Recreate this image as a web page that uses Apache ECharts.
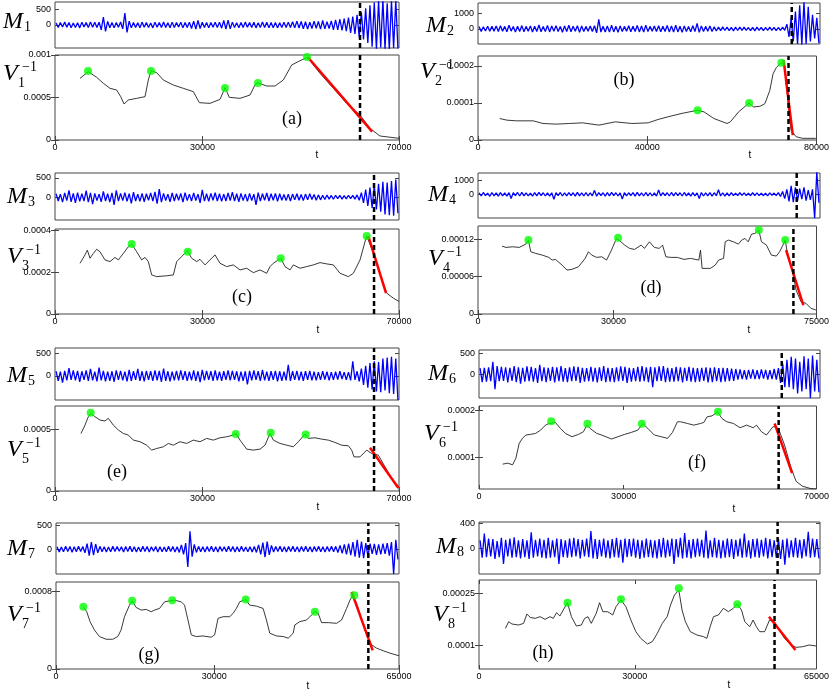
<!DOCTYPE html>
<html><head><meta charset="utf-8">
<script src="https://cdn.jsdelivr.net/npm/echarts@6/dist/echarts.min.js"></script>
<style>html,body{margin:0;padding:0;background:#fff}#c{width:832px;height:691px}</style>
</head><body><div id="c"></div>
<script>
// ---------- data ----------
const panelLetters = ['(a)','(b)','(c)','(d)','(e)','(f)','(g)','(h)'];
const tMax = [70000, 80000, 70000, 75000, 70000, 70000, 65000, 65000];
const dashT = [62070, 73390, 64920, 69890, 64920, 62150, 59190, 56920];
const mRange = [[-720,720],[-955,1640],[-595,630],[-1680,1510],[-530,610],[-557,580],[-530,558],[-411,426]];
const mTicks = [[0,500],[0,1000],[0,500],[0,1000],[0,500],[0,500],[0,500],[0,400]];
const vRange = [[0,0.001],[0,0.000227],[0,0.000407],[0,0.000141],[0,0.00069],[0.0000323,0.000209],[0,0.000895],[0.0000333,0.000288]];
const vTicks = [[0,0.0005,0.001],[0,0.0001,0.0002],[0,0.0002,0.0004],[0,0.00006,0.00012],[0,0.0005],[0.0001,0.0002],[0,0.0008],[0.0001,0.00025]];
const vTickLabels = [['0','0.0005','0.001'],['0','0.0001','0.0002'],['0','0.0002','0.0004'],['0','0.00006','0.00012'],['0','0.0005'],['0.0001','0.0002'],['0','0.0008'],['0.0001','0.00025']];
const xTicks = [[0,30000,70000],[0,40000,80000],[0,30000,70000],[0,30000,75000],[0,30000,70000],[0,30000,70000],[0,30000,65000],[0,30000,65000]];

// signal M_i (160 samples read evenly over [0, tMax])
const m1 = [60,-75,80,-65,90,-70,75,-85,65,-80, 70,-90,85,-65,80,-75,95,-70,85,-80, 90,-150,250,-200,110,-85,75,-90,80,-70, 95,-120,370,-230,120,-90,80,-75,70,-85,
 90,-70,75,-80,65,-90,85,-70,80,-75, 95,-80,70,-85,90,-75,80,-65,85,-90, 75,-80,90,-110,120,-130,140,-110,85,-80, 75,-90,80,-70,85,-75,90,-100,140,-130,
 150,-120,90,-80,70,-85,75,-80,90,-70, 80,-75,85,-90,70,-80,95,-75,85,-90, 80,-85,75,-90,70,-80,85,-75,90,-80, 100,-90,120,-95,110,-120,100,-130,90,-110,
 120,-100,110,-130,140,-120,100,-110,130,-150, 160,-150,180,-170,200,-190,230,-250,260,-280, 320,-380,400,-450,520,-560,620,-680,700,-760, 760,-700,800,-760,680,-780,760,-720,780,-740];
const m2 = [150,-160,140,-130,170,-150,160,-140,180,-170, 200,-150,160,-180,230,-140,150,-190,170,-160, 210,-180,160,-150,190,-200,170,-160,250,-180, 160,-170,220,-190,180,-150,200,-170,160,-210,
 190,-160,230,-180,170,-150,200,-220,180,-170, 160,-150,190,-170,200,-250,600,-200,170,-190, 180,-200,230,-190,170,-220,190,-170,160,-150, 200,-180,170,-160,220,-190,180,-200,230,-170,
 160,-150,190,-170,200,-180,170,-160,220,-190, 180,-200,230,-190,170,-220,190,-170,160,-180, 200,-170,350,-220,190,-170,160,-150,180,-160, 140,-130,120,-110,130,-100,120,-110,100,-120,
 110,-100,120,-90,110,-100,90,-110,100,-120, 110,-90,100,-110,90,-100,110,-90,100,-110, 90,-100,110,-90,300,-500,700,-800,1100,-960, 1500,-1000,1700,-960,1400,-800,900,-600,700,-900];
const m3 = [90,-100,80,-130,110,-90,180,-120,100,-150, 120,-110,90,-100,170,-130,110,-180,100,-90, 80,-120,150,-100,90,-130,110,-200,180,-100, 100,-90,120,-110,90,-160,130,-100,80,-110,
 100,-120,90,-80,110,-100,140,-170,210,-130, 100,-90,80,-120,110,-100,90,-80,100,-130, 120,-90,80,-100,110,-90,80,-150,190,-100, 90,-110,100,-80,120,-100,90,-110,80,-100,
 110,-90,130,-100,90,-120,100,-90,80,-110, 100,-90,80,-200,120,-100,90,-80,110,-100, 90,-80,100,-110,90,-80,70,-90,80,-100, 80,-70,90,-80,70,-90,80,-70,90,-60,
 70,-80,60,-70,50,-60,55,-50,45,-55, 50,-40,45,-50,40,-45,50,-40,45,-50, 60,-80,120,-150,200,-230,250,-280,300,-320, 350,-380,400,-450,380,-470,420,-480,460,-420];
const m4 = [110,-120,130,-100,90,-140,120,-110,100,-130, 120,-110,100,-130,120,-300,110,-100,130,-120, 140,-110,100,-120,90,-130,120,-110,140,-100, 110,-120,100,-130,110,-350,120,-100,130,-120,
 100,-110,120,-100,110,-130,140,-110,100,-120, 130,-120,100,-110,280,-140,120,-100,110,-130, 120,-110,130,-100,110,-120,100,-330,120,-110, 110,-100,120,-130,140,-110,100,-120,130,-110,
 110,-120,100,-130,300,-110,120,-100,110,-120, 130,-110,120,-100,110,-120,130,-110,100,-130, 120,-110,100,-300,130,-120,100,-110,120,-130, 110,-100,320,-120,110,-130,100,-110,120,-100,
 90,-100,110,-80,100,-90,80,-100,110,-90, 100,-90,80,-100,90,-110,100,-80,90,-100, 120,-150,200,-300,350,-500,600,-550,500,-450, 400,-350,500,-450,300,-400,350,-1700,1600,-600];
const m5 = [100,-110,90,-150,110,-100,170,-90,120,-100, 110,-130,100,-90,120,-110,150,-100,90,-120, 180,-100,110,-120,90,-110,100,-130,120,-90, 110,-100,90,-120,130,-110,100,-90,150,-110,
 100,-120,110,-90,100,-110,120,-100,110,-130, 160,-110,100,-120,90,-100,110,-100,120,-90, 100,-110,90,-100,120,-110,100,-140,130,-100, 110,-90,100,-110,120,-100,90,-110,100,-90,
 120,-100,110,-90,100,-120,90,-110,100,-190, 110,-100,120,-90,100,-110,130,-100,90,-110, 100,-90,110,-120,100,-110,90,-100,240,-110, 100,-90,110,-100,90,-110,100,-90,110,-100,
 90,-100,80,-90,100,-80,90,-100,80,-90, 90,-80,100,-70,80,-90,80,-100,320,-90, 100,-120,160,-200,220,-260,280,-300,320,-340, 300,-360,380,-320,400,-380,420,-400,380,-530];
const m6 = [150,-180,160,-170,170,-160,300,-350,200,-160, 180,-150,170,-190,160,-150,200,-180,170,-220, 160,-170,190,-160,180,-170,150,-200,230,-160, 170,-180,160,-150,180,-190,170,-160,200,-170,
 150,-180,170,-160,190,-150,180,-200,160,-170, 150,-160,180,-170,160,-190,170,-150,200,-180, 160,-170,150,-180,170,-160,190,-150,180,-200, 160,-170,150,-160,180,-170,200,-160,170,-180,
 180,-300,170,-160,190,-150,200,-180,160,-170, 150,-170,180,-160,170,-190,160,-150,180,-170, 160,-180,150,-170,160,-150,170,-190,160,-180, 170,-160,150,-180,160,-170,150,-160,140,-150,
 130,-120,120,-110,100,-120,110,-100,120,-110, 100,-110,120,-100,110,-120,100,-110,130,-120, 150,-200,260,-300,350,-300,420,-350,380,-450, 300,-400,430,-350,380,-560,450,-400,350,-420];
const m7 = [50,-60,45,-55,60,-50,55,-65,50,-55, 60,-50,55,-80,120,-140,150,-130,110,-80, 60,-55,50,-60,45,-55,60,-50,55,-45, 50,-60,55,-50,60,-55,50,-60,45,-55,
 60,-50,55,-60,50,-45,55,-60,50,-55, 45,-55,60,-50,55,-60,50,-70,90,-110, 130,-380,380,-160,100,-70,60,-55,50,-60, 55,-50,60,-55,50,-60,55,-45,50,-55,
 60,-50,55,-60,50,-55,60,-50,45,-55, 50,-60,55,-70,90,-110,140,-170,160,-120, 80,-60,55,-50,60,-55,50,-60,55,-50, 60,-55,50,-60,55,-50,60,-55,50,-60,
 55,-50,60,-55,50,-60,55,-50,60,-55, 60,-70,80,-90,100,-110,120,-130,150,-160, 200,-180,160,-190,130,-150,120,-100,110,-120, 100,-110,120,-100,130,-140,150,-530,200,-220];
const m8 = [130,-150,240,-140,160,-130,150,-170,120,-140, 170,-250,140,-130,160,-150,180,-140,130,-160, 150,-140,130,-170,260,-150,140,-130,160,-150, 140,-160,170,-150,130,-140,160,-250,150,-140,
 130,-150,160,-140,170,-130,150,-160,140,-130, 160,-140,280,-160,150,-170,140,-130,160,-150, 130,-160,150,-140,170,-150,140,-230,160,-140, 150,-130,160,-150,140,-170,130,-150,160,-140,
 140,-150,130,-160,150,-140,170,-150,140,-130, 160,-250,150,-140,170,-160,250,-150,140,-160, 150,-140,160,-130,140,-150,290,-160,130,-140, 170,-150,140,-160,130,-150,160,-140,150,-170,
 140,-130,160,-150,240,-140,130,-160,150,-140, 160,-150,140,-130,170,-160,150,-140,130,-150, 150,-170,140,-260,160,-150,130,-140,170,-150, 140,-160,150,-130,270,-150,160,-140,150,-160];

// V_i^{-1} traces [t, value]
const v1 = [[5090,0.000725],[6780,0.000804],[8480,0.000737],[9840,0.000667],[11190,0.000608],[12550,0.000588],[13370,0.00051],[14040,0.000424],[14920,0.000471],[16620,0.00049],[18320,0.00051],[18990,0.000706],[19540,0.000816],[20690,0.000792],[22040,0.000706],[24080,0.000647],[26110,0.000608],[28150,0.000569],[29370,0.000439],[31540,0.000431],[33580,0.000478],[34600,0.000616],[35470,0.000502],[37650,0.00049],[39680,0.000529],[40700,0.000647],[41240,0.000675],[43070,0.000635],[44770,0.000635],[46460,0.000706],[48160,0.000882],[49860,0.000933],[51350,0.000973],[53930,0.000784],[56640,0.000608],[59360,0.000431],[62070,0.000294],[64100,0.000137],[66140,0.000047],[70000,0.00002]];
const v2 = [[5130,0.000058],[6830,0.0000536],[9160,0.0000518],[13050,0.0000518],[15380,0.0000446],[18480,0.0000429],[21580,0.0000446],[24700,0.0000464],[28570,0.0000402],[32460,0.0000491],[36350,0.0000446],[40220,0.0000464],[42550,0.0000554],[44880,0.0000625],[47990,0.0000714],[51890,0.0000804],[53430,0.0000759],[55760,0.000058],[58860,0.0000446],[59650,0.0000491],[61580,0.0000759],[64080,0.0001],[65080,0.0000893],[66640,0.0000911],[67800,0.0000982],[68970,0.000134],[69740,0.000179],[70510,0.000196],[71690,0.000209],[72470,0.000201],[73240,0.000107],[74000,0.0000268],[75170,0.0000089],[76730,0.0000045],[79830,0.0000045]];
const v3 = [[5088,0.000243],[6105,0.000283],[6580,0.000306],[7123,0.000267],[7800,0.00029],[8480,0.00031],[9158,0.000298],[10175,0.000259],[11193,0.000251],[12210,0.000271],[12888,0.000259],[13905,0.00029],[14923,0.000322],[15602,0.000335],[16620,0.000298],[17637,0.000259],[18315,0.000271],[18993,0.000251],[19672,0.000187],[20690,0.000179],[22724,0.000183],[24080,0.000187],[24759,0.000251],[25777,0.000275],[26930,0.000303],[27812,0.000267],[28829,0.000251],[29508,0.000262],[30525,0.000235],[31543,0.000259],[32560,0.000283],[33578,0.000243],[34934,0.000227],[36291,0.000235],[37648,0.000211],[39004,0.000219],[40361,0.000198],[41718,0.000211],[43074,0.000195],[43753,0.000227],[44430,0.000243],[45923,0.000267],[46805,0.000227],[47823,0.000211],[48500,0.000235],[49858,0.000219],[51214,0.000227],[52570,0.000235],[53928,0.000246],[55284,0.00024],[56640,0.000235],[57998,0.000195],[59693,0.000179],[60710,0.000195],[62068,0.000259],[63085,0.000346],[63424,0.000373],[64780,0.000295],[66138,0.000192],[67495,0.0001],[68850,0.000076],[70000,0.00006]];
const v4 = [[5324,0.0001088],[6200,0.0001067],[7670,0.0001077],[9130,0.0001067],[10590,0.000112],[11170,0.0001184],[11690,0.0000997],[12780,0.0000971],[14240,0.0000944],[15700,0.0000907],[16430,0.0000864],[17160,0.0000875],[18620,0.0000784],[19720,0.0000704],[20810,0.0000715],[22270,0.0000757],[23740,0.0000891],[24470,0.0000997],[25200,0.0000944],[26290,0.0000907],[27390,0.0000917],[28490,0.0000864],[29580,0.0001024],[30680,0.0001211],[31410,0.0001173],[32500,0.0001104],[33600,0.0001051],[34690,0.0001035],[36150,0.0001104],[36880,0.0001051],[37980,0.0001157],[39070,0.0001067],[40170,0.0001051],[40900,0.0001104],[41630,0.0000917],[42720,0.0000907],[44190,0.0000907],[45650,0.0000875],[47110,0.0000891],[48930,0.0000864],[49300,0.0001024],[49660,0.0000731],[51490,0.0000731],[52580,0.0000784],[53310,0.0000864],[54410,0.0000891],[54780,0.0001157],[55500,0.0001184],[56600,0.0001157],[57690,0.000112],[58430,0.0001184],[59160,0.0001211],[59880,0.0001157],[60620,0.000128],[61350,0.0001291],[62220,0.0001344],[62810,0.0001157],[63910,0.0001104],[65000,0.0000944],[66100,0.0000928],[66830,0.0000997],[67560,0.0001104],[68070,0.0001184],[68430,0.0001024],[69020,0.0000864],[69750,0.0000651],[70480,0.0000384],[71570,0.0000197],[72670,0.0000171],[73770,0.0000091],[74860,0.0000064]];
const v5 = [[5290,0.000467],[6105,0.000535],[6780,0.000603],[7260,0.00063],[8140,0.000603],[9160,0.000576],[10170,0.000568],[10850,0.00059],[11870,0.000535],[12890,0.000495],[13900,0.000467],[14920,0.000454],[15940,0.000413],[17300,0.0004],[18650,0.000372],[19670,0.000332],[20690,0.000345],[22050,0.000359],[23060,0.000386],[24080,0.000372],[25440,0.0004],[26800,0.000386],[28150,0.000413],[29510,0.0004],[30860,0.000427],[32220,0.000413],[33580,0.000432],[34930,0.00044],[36290,0.000454],[36830,0.000467],[37650,0.000413],[39000,0.00034],[40360,0.000332],[41720,0.00034],[42740,0.000372],[43750,0.000467],[44430,0.000413],[45790,0.000386],[47140,0.000372],[48500,0.000359],[49520,0.0004],[50880,0.000462],[51550,0.000427],[52910,0.000432],[54270,0.000421],[55620,0.000413],[56980,0.000394],[58340,0.000372],[59690,0.000367],[60370,0.000332],[60850,0.000277],[62070,0.000277],[63430,0.000332],[64450,0.000304],[65800,0.000291],[67160,0.000196],[68510,0.0001],[70000,0.000033]];
const v6 = [[4916,0.0000852],[5950,0.0000873],[6970,0.0000838],[7650,0.0000979],[8340,0.0001296],[9020,0.0001401],[9700,0.0001472],[10730,0.0001486],[11750,0.0001507],[12780,0.0001577],[13800,0.0001683],[14500,0.0001718],[15850,0.0001739],[16880,0.0001613],[17900,0.0001507],[19280,0.0001437],[20650,0.0001486],[21670,0.0001542],[22360,0.0001683],[23040,0.0001613],[24410,0.0001507],[25430,0.0001472],[27480,0.0001387],[28850,0.0001437],[30220,0.0001486],[31590,0.0001528],[32960,0.0001577],[33980,0.0001718],[35010,0.0001613],[36370,0.0001472],[37740,0.0001437],[39110,0.0001401],[40130,0.0001528],[41160,0.0001754],[41840,0.0001754],[43210,0.0001718],[44570,0.0001683],[45940,0.0001718],[46620,0.0001739],[47310,0.0001859],[48340,0.000188],[49500,0.0001965],[50390,0.0001824],[51410,0.0001754],[52780,0.0001718],[54150,0.0001627],[55510,0.0001683],[56880,0.0001627],[57560,0.0001683],[58590,0.0001542],[59620,0.0001472],[60980,0.0001648],[61660,0.0001648],[62350,0.0001542],[63370,0.0001261],[64740,0.0000768],[65770,0.0000486],[67130,0.000038],[68850,0.0000331],[70000,0.0000324]];
const v7 = [[5184,0.00064],[5820,0.000589],[6460,0.000487],[7280,0.000402],[8230,0.000334],[9500,0.000306],[10760,0.000306],[11710,0.000334],[12340,0.000402],[12980,0.000538],[13930,0.000657],[14430,0.000701],[15190,0.000633],[16140,0.000606],[17090,0.000613],[18040,0.000589],[18670,0.000606],[19620,0.000623],[20570,0.000691],[21520,0.000701],[22470,0.000708],[23740,0.000691],[24360,0.000657],[25010,0.000504],[25640,0.000351],[26590,0.000334],[27860,0.00034],[29430,0.000327],[30060,0.000351],[30710,0.000521],[31660,0.000538],[32910,0.000538],[33560,0.000572],[34180,0.000623],[34810,0.000691],[35950,0.000715],[36710,0.000657],[37980,0.000647],[39250,0.000623],[39880,0.000504],[40510,0.000368],[41780,0.00034],[43050,0.000334],[44000,0.000317],[44950,0.000368],[45250,0.000453],[46200,0.000487],[47480,0.000504],[48420,0.000555],[49050,0.000589],[49700,0.000572],[50320,0.000477],[51600,0.000477],[53170,0.00047],[54120,0.000504],[55070,0.000623],[55700,0.000708],[56210,0.000759],[56970,0.000674],[57920,0.000504],[58870,0.000351],[59820,0.000248],[60770,0.000214],[62040,0.000187],[63290,0.000163],[65000,0.000136]];
const v8 = [[5090,0.0001496],[5720,0.0001687],[6360,0.000162],[7630,0.0001592],[8590,0.0001639],[9220,0.0001906],[9860,0.0001811],[10810,0.0001782],[11770,0.000183],[12720,0.0001754],[13680,0.000183],[14310,0.0001782],[14950,0.0001945],[15580,0.0001849],[16220,0.0002021],[17040,0.000223],[17800,0.000183],[18760,0.0001563],[19710,0.0001592],[20350,0.0001782],[20990,0.000183],[21620,0.0001639],[22580,0.0001926],[23220,0.000223],[23850,0.0001973],[24800,0.0001973],[25760,0.0001878],[26390,0.0002116],[27340,0.0002307],[28300,0.0002116],[29250,0.0001735],[30210,0.0001401],[31160,0.000121],[32440,0.0001048],[33390,0.0001115],[34340,0.0001353],[35300,0.0001639],[36250,0.000183],[36890,0.0002164],[37650,0.000245],[38480,0.0002594],[39110,0.0002021],[39750,0.0001687],[40700,0.0001401],[41980,0.0001305],[43250,0.0001258],[43880,0.000121],[44520,0.0001544],[45160,0.000183],[46120,0.0001878],[47070,0.0002069],[48020,0.0001973],[48980,0.0002069],[49740,0.0002193],[50560,0.0002021],[51190,0.0001687],[52150,0.0001544],[52790,0.0001735],[53420,0.0001544],[54060,0.0001401],[55010,0.0001401],[55960,0.0001735],[56920,0.0001687],[57870,0.0001448],[58820,0.000121],[60100,0.0001019],[61060,0.0000952],[62330,0.0000971],[63590,0.0001019],[65000,0.000099]];

// green peak markers
const dots1 = [[6715,0.000812],[19535,0.000812],[34590,0.000612],[41300,0.00067],[51280,0.000976]];
const dots2 = [[51890,0.0000804],[64080,0.0001],[71690,0.000209]];
const dots3 = [[15602,0.000335],[27000,0.000298],[45923,0.000267],[63424,0.000373]];
const dots4 = [[11170,0.0001184],[31040,0.0001221],[62220,0.0001344],[68070,0.0001184]];
const dots5 = [[7258,0.000636],[36770,0.000462],[43890,0.000473],[51010,0.000459]];
const dots6 = [[14970,0.0001768],[22490,0.0001711],[33770,0.0001711],[49570,0.0001965]];
const dots7 = [[5184,0.00064],[14430,0.000701],[22030,0.000708],[35950,0.000715],[49050,0.000589],[56530,0.000759]];
const dots8 = [[17040,0.000223],[27340,0.0002326],[38480,0.0002641],[49740,0.0002183]];

// red linear fits
const red1 = [[51450,0.000973],[64540,0.000098]];
const red2 = [[72230,0.000216],[74400,0.0000134]];
const red3 = [[63760,0.000373],[67360,0.0001]];
const red4 = [[68270,0.0001024],[72080,0.0000144]];
const red5 = [[64100,0.000351],[69870,0.0000245]];
const red6 = [[61320,0.0001718],[64940,0.0000662]];
const red7 = [[56020,0.000793],[60010,0.000191]];
const red8 = [[55850,0.000183],[60940,0.0000876]];

// ---------- layout (pixels) ----------
const layout = [
  {x:55,  w:344, mTop:2,   mH:46, vTop:55,  vH:85, mx:3,   mb:30,  vx:3,   vb:82,  lx:292, ly:119, tx:317, ty:155},
  {x:478, w:342, mTop:3,   mH:41, vTop:56,  vH:84, mx:426, mb:34,  vx:420, vb:80,  lx:624, ly:80,  tx:750, ty:155},
  {x:55,  w:344, mTop:173, mH:47, vTop:229, vH:85, mx:7,   mb:205, vx:7,   vb:265, lx:242, ly:297, tx:318, ty:330},
  {x:478, w:342, mTop:173, mH:45, vTop:226, vH:88, mx:428, mb:203, vx:428, vb:267, lx:651, ly:288, tx:749, ty:330},
  {x:55,  w:344, mTop:348, mH:52, vTop:406, vH:85, mx:7,   mb:384, vx:7,   vb:458, lx:117, ly:472, tx:318, ty:507},
  {x:479, w:341, mTop:350, mH:48, vTop:406, vH:83, mx:428, mb:382, vx:424, vb:442, lx:697, ly:463, tx:734, ty:509},
  {x:56,  w:343, mTop:523, mH:51, vTop:582, vH:87, mx:7,   mb:557, vx:7,   vb:623, lx:149, ly:655, tx:308, ty:686},
  {x:479, w:341, mTop:522, mH:52, vTop:580, vH:89, mx:436, mb:555, vx:433, vb:623, lx:543, ly:653, tx:729, ty:685}
];

const mSig = [m1,m2,m3,m4,m5,m6,m7,m8];
const vLine = [v1,v2,v3,v4,v5,v6,v7,v8];
const vDots = [dots1,dots2,dots3,dots4,dots5,dots6,dots7,dots8];
const vRed = [red1,red2,red3,red4,red5,red6,red7,red8];

const BOX = '#444';
const tickFont = {fontSize:9, color:'#000', fontFamily:'"Liberation Sans", Arial, sans-serif'};
const grids=[], xAxes=[], yAxes=[], series=[], graphics=[];

for (let p=0; p<8; p++) {
  const g = layout[p];
  const gm = grids.length;
  grids.push({left:g.x, top:g.mTop, width:g.w, height:g.mH, show:true, borderColor:BOX, borderWidth:1, backgroundColor:'transparent'});
  const gv = grids.length;
  grids.push({left:g.x, top:g.vTop, width:g.w, height:g.vH, show:true, borderColor:BOX, borderWidth:1, backgroundColor:'transparent'});

  const xm = xAxes.length;
  xAxes.push({type:'value', gridIndex:gm, min:0, max:tMax[p], axisLine:{show:false}, axisTick:{show:false}, axisLabel:{show:false}, splitLine:{show:false}});
  const ym = yAxes.length;
  yAxes.push({type:'value', gridIndex:gm, position:'left', min:mRange[p][0], max:mRange[p][1], axisLine:{show:false}, splitLine:{show:false},
    axisTick:{show:true, inside:true, length:4, lineStyle:{color:BOX}, customValues:mTicks[p]},
    axisLabel:Object.assign({show:true, margin:4, customValues:mTicks[p], formatter:v=>String(Math.round(v))}, tickFont)});
  yAxes.push({type:'value', gridIndex:gm, position:'right', min:mRange[p][0], max:mRange[p][1], axisLine:{show:false}, splitLine:{show:false},
    axisTick:{show:true, inside:true, length:4, lineStyle:{color:BOX}, customValues:mTicks[p]}, axisLabel:{show:false}});

  const xv = xAxes.length;
  xAxes.push({type:'value', gridIndex:gv, position:'bottom', min:0, max:tMax[p], axisLine:{show:false}, splitLine:{show:false},
    axisTick:{show:true, inside:true, length:4, lineStyle:{color:BOX}, customValues:xTicks[p]},
    axisLabel:Object.assign({show:true, margin:3, customValues:xTicks[p], formatter:v=>String(Math.round(v)), showMaxLabel:true, showMinLabel:true}, tickFont)});
  xAxes.push({type:'value', gridIndex:gv, position:'top', min:0, max:tMax[p], axisLine:{show:false}, splitLine:{show:false},
    axisTick:{show:true, inside:true, length:4, lineStyle:{color:BOX}, customValues:xTicks[p]}, axisLabel:{show:false}});
  const yv = yAxes.length;
  const ticks = vTicks[p], labs = vTickLabels[p];
  const fmt = (val) => { let k=0, best=Infinity; ticks.forEach((t,i)=>{ const d=Math.abs(t-val); if(d<best){best=d;k=i;} }); return labs[k]; };
  yAxes.push({type:'value', gridIndex:gv, position:'left', min:vRange[p][0], max:vRange[p][1], axisLine:{show:false}, splitLine:{show:false},
    axisTick:{show:true, inside:true, length:4, lineStyle:{color:BOX}, customValues:ticks},
    axisLabel:Object.assign({show:true, margin:4, customValues:ticks, formatter:fmt, showMaxLabel:true, showMinLabel:true}, tickFont)});
  yAxes.push({type:'value', gridIndex:gv, position:'right', min:vRange[p][0], max:vRange[p][1], axisLine:{show:false}, splitLine:{show:false},
    axisTick:{show:true, inside:true, length:4, lineStyle:{color:BOX}, customValues:ticks}, axisLabel:{show:false}});

  const sig = mSig[p], n = sig.length, T = tMax[p];
  series.push({type:'line', xAxisIndex:xm, yAxisIndex:ym, data:sig.map((v,i)=>[(i+0.5)*T/n, v]), symbol:'none', lineStyle:{color:'#0000ff', width:1.3}, z:2, silent:true});
  series.push({type:'line', xAxisIndex:xm, yAxisIndex:ym, data:[[dashT[p], mRange[p][0]],[dashT[p], mRange[p][1]]], symbol:'none', lineStyle:{color:'#000', width:2.5, type:[5,3]}, z:4, silent:true});
  series.push({type:'line', xAxisIndex:xv, yAxisIndex:yv, data:vLine[p], symbol:'none', lineStyle:{color:'#222', width:0.9}, z:2, silent:true});
  series.push({type:'line', xAxisIndex:xv, yAxisIndex:yv, data:vRed[p], symbol:'none', lineStyle:{color:'#ff0000', width:2.5}, z:3, silent:true});
  series.push({type:'line', xAxisIndex:xv, yAxisIndex:yv, data:[[dashT[p], vRange[p][0]],[dashT[p], vRange[p][1]]], symbol:'none', lineStyle:{color:'#000', width:2.5, type:[5,3]}, z:4, silent:true});
  series.push({type:'scatter', xAxisIndex:xv, yAxisIndex:yv, data:vDots[p], symbol:'circle', symbolSize:8, itemStyle:{color:'#00ff00'}, z:5, silent:true});

  const serifI = 'italic 24px "Liberation Serif", "DejaVu Serif", serif';
  const serif = '14px "Liberation Serif", "DejaVu Serif", serif';
  const idx = String(p+1);
  graphics.push({type:'text', z:10, style:{text:'M', x:g.mx, y:g.mb-8, font:serifI, fill:'#000', align:'left', verticalAlign:'middle'}});
  graphics.push({type:'text', z:10, style:{text:idx, x:g.mx+21, y:g.mb-2.5, font:serif, fill:'#000', align:'left', verticalAlign:'middle'}});
  graphics.push({type:'text', z:10, style:{text:'V', x:g.vx, y:g.vb-8, font:serifI, fill:'#000', align:'left', verticalAlign:'middle'}});
  graphics.push({type:'text', z:10, style:{text:'\u22121', x:g.vx+19, y:g.vb-15, font:serif, fill:'#000', align:'left', verticalAlign:'middle'}});
  graphics.push({type:'text', z:10, style:{text:idx, x:g.vx+15, y:g.vb+1, font:serif, fill:'#000', align:'left', verticalAlign:'middle'}});
  graphics.push({type:'text', z:10, style:{text:panelLetters[p], x:g.lx, y:g.ly, font:'18px "Liberation Serif", "DejaVu Serif", serif', fill:'#000', align:'center', verticalAlign:'middle'}});
  graphics.push({type:'text', z:10, style:{text:'t', x:g.tx, y:g.ty, font:'10px "Liberation Sans", Arial, sans-serif', fill:'#000', align:'center', verticalAlign:'middle'}});
}

const chart = echarts.init(document.getElementById('c'), null, {renderer:'canvas'});
chart.setOption({
  backgroundColor:'#fff',
  animation:false,
  grid:grids, xAxis:xAxes, yAxis:yAxes, series:series,
  graphic:{elements:graphics}
});
</script></body></html>
